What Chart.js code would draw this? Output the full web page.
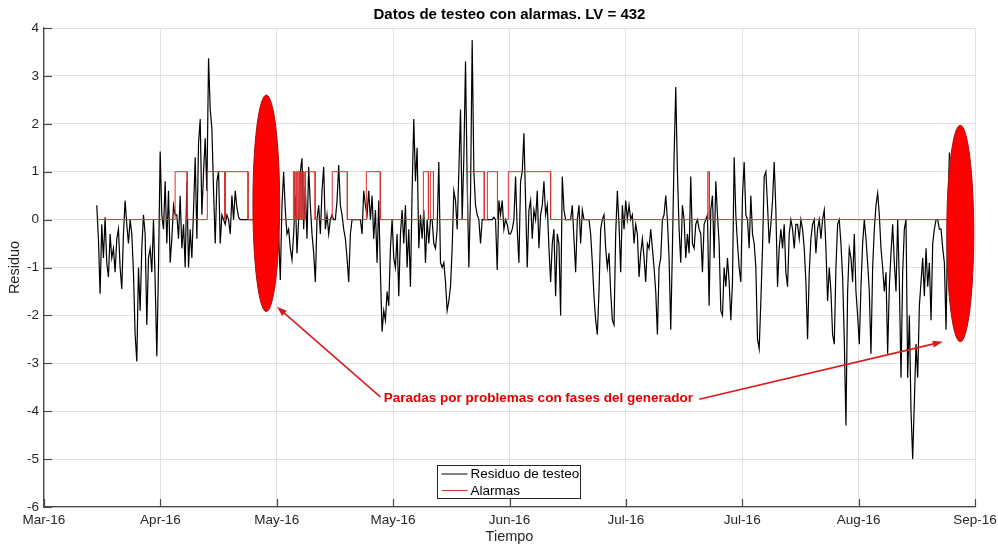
<!DOCTYPE html>
<html>
<head>
<meta charset="utf-8">
<script src="https://cdn.jsdelivr.net/npm/chart.js@4.4.1/dist/chart.umd.min.js"></script>
<style>
  html, body { margin: 0; padding: 0; background: #fff; }
</style>
</head>
<body>
<canvas id="residuoChart" width="998" height="544"></canvas>
<script>
// time axis, in days from the first tick
const tickLabels = ['Mar-16','Apr-16','May-16','May-16','Jun-16','Jul-16','Jul-16','Aug-16','Sep-16'];
const firstDay = 13.6;
const lastDay = 233.4;

// residuo de testeo, equally spaced samples between firstDay and lastDay
const residuo = [
  0.3, -0.4, -1.55, -0.1, -0.8, 0.05, -0.9, -1.2, -0.3, -0.8, -0.6, -1.1,
  -0.4, -0.2, -1.0, -1.45, -0.3, 0.4, -0.1, -0.5, 0.0, -0.3, -1.1, -2.4,
  -2.96, -1.0, -1.9, -0.6, 0.1, -0.3, -2.2, -0.8, -0.6, -1.1, 0.0, -1.3,
  -2.85, -1.0, 1.42, 0.1, -0.2, 0.8, -0.5, 0.6, -0.9, -0.4, 0.3, 0.1,
  0.1, -0.4, 0.5, -0.6, -0.1, -1.0, 0.8, -1.0, -0.2, -0.8, 0.2, 1.3,
  -0.4, 1.6, 2.1, 0.1, 1.0, 1.7, 0.6, 3.37, 2.3, 1.9, 0.6, -0.5,
  0.8, 1.0, -0.5, 0.1, 0.0, -0.1, 0.1, 0.0, -0.3, 0.5, 0.0, 0.6,
  0.25, 0.05, 0, 0, 0, 0, 0, 0, 0, 0, 0, 0,
  0, 0, 0, 0, 0, 0, 0, 0, 0, 0, 0, 0,
  0.0, -0.3, -1.26, 0.3, 1.0, 0.2, -0.3, -0.2, -0.6, -0.84, -0.3, 0.5,
  -0.7, 0.0, 1.0, 1.28, -0.2, 0.7, -0.4, 1.1, 0.3, -0.3, -0.7, -1.3,
  0.0, 0.3, -0.3, 0.6, 1.1, -0.2, 0.1, -0.3, 0.0, 0.1, 0.0, 0.0,
  0.4, 1.14, 0.3, 0.1, -0.2, -0.4, -0.8, -1.3, -0.3, 0.0, 0.0, 0.0,
  0.0, 0.0, 0.0, -0.3, 0.6, 0.3, 0.1, 0.6, 0.0, 0.5, -0.4, 0.2,
  -0.9, 0.4, -1.1, -2.34, -1.9, -2.1, -1.5, -1.8, -0.6, 0.0, -0.8, -1.0,
  -0.3, -1.6, -0.3, 0.2, -0.5, 0.3, -1.0, -0.2, -1.4, 0.6, 2.1, 0.8,
  1.5, -0.6, 0.1, -0.4, 0.2, -0.9, 0.0, -0.5, 0.0, 0.0, -0.5, -0.6,
  -0.2, 1.2, -0.9, -1.0, -0.9, -1.3, -1.9, -1.7, -1.4, -0.6, 0.6, 0.4,
  -0.2, 1.0, 2.3, 0.0, 1.3, 3.3, 0.8, -1.0, 0.5, 3.75, 1.0, 0.3,
  0.1, 0.0, -0.5, 0.0, 0.0, 0.0, 0.0, 0.0, 0.0, 0.0, 0.05, 0.0,
  -1.05, 0.4, 0.1, 0.4, -0.2, 0.0, -0.1, -0.3,
  -0.3, -0.2, 0.0, 0.9, -0.2, -0.9, 0.8, 1.0, 1.8, 0.4, -1.0, 0.2,
  0.4, -0.4, 0.2, 0.0, 0.6, -0.6, 0.1, 0.3, 0.8, 0.1, 0.3, -0.6,
  -1.3, -0.5, -0.2, -1.6, -0.3, -0.5, -2.0, 0.9, 0.2, 0.0, 0.0, 0.0,
  0.0, 0.3, -0.4, -1.1, 0.0, 0.3, -0.5, 0.2, 0.0, 0.0, 0.0, 0.0,
  -0.3, -0.9, -1.6, -2.1, -2.4, -1.5, -0.2, 0.0, 0.1, -0.6, -1.0, -0.7,
  -1.5, -2.1, -2.2, -0.3, 0.6, -0.1, -1.1, 0.3, -0.2, 0.4, 0.0, 0.3,
  0.0, 0.1, -0.5, -0.1, -0.3, -1.2, -0.7, -0.4, -0.8, -1.3, -0.5, -0.6,
  -0.2, -0.6, -1.0, -1.5, -2.4, -1.0, -0.8, 0.0, 0.1, 0.5, 0.0, -0.8,
  -2.3, -0.6, 1.3, 2.77, 1.0, -0.2, -0.9, 0.3, 0.0, -0.8, -0.3, -0.7,
  0.9, -0.5, -0.6, -0.1, 0.0, -0.2, -0.3, -1.1, -0.1, 0.0, 0.1, -1.8,
  0.2, 0.5, -0.8, 0.8, 0.1, -0.5, -1.9, -2.0, -1.0, -1.4, -0.8, -1.3,
  -2.1, -1.3, 1.3, 0.1, -0.5, -1.0, -1.3, 0.5, 1.2, 0.1, 0.0, -0.6,
  0.5, -0.3, -0.5, -1.0, -2.5, -2.7, -1.7, -0.6, 0.9, 1.0, 0.3, -0.5,
  -0.1, 0.4, 1.2, 0.2, -1.4, -0.6, -0.2, -0.6, -0.1, -1.1, -1.4, -0.3,
  0.0, -0.2, -0.6, -0.1, -0.1, -0.4, 0.0, -0.2, -0.6, -1.3, -2.5, -1.1,
  -0.4, -0.1, 0.0, -0.7, -0.2, 0.0, -0.4, 0.0, 0.2, -0.6, -1.7, -1.0,
  -1.5, -2.4, -2.6, -1.0, -0.1, 0.0, -0.5, -1.2, -2.5, -4.3, -1.5, -0.6,
  -0.8, -1.3, -0.3, -1.5, -2.0, -2.6, -1.4, -0.5, 0.0, -0.4, -0.9, -1.5,
  -2.8, -1.0, -0.2, 0.3, 0.55, 0.1, -0.6, -1.0, -1.5, -1.1, -2.8, -1.4,
  -0.7, -0.1, -0.9, -1.5, 0.0, -1.3, -3.3, -1.1, -0.2, 0.0, -3.3, -2.0,
  -4.0, -5.0, -3.8, -2.6, -3.3, -1.8, -1.3, -0.8, -1.6, -0.6, -1.4, -0.9,
  -2.1, -0.5, -0.2, 0.0, 0.0, -0.2, -0.2, -0.6, -0.9, -2.3, 0.0, 1.4
];

// alarmas: start and end day of each alarm period (value 1)
const alarmOn  = [33.8, 42.1, 46.8, 64.3, 64.9, 65.5, 66.1, 66.7, 67.4, 74.3, 83.1, 97.8, 99.6, 109.2, 114.3, 119.7, 171.1];
const alarmOff = [36.9, 46.6, 52.6, 64.6, 65.2, 65.8, 66.4, 67.0, 69.9, 78.2, 86.7, 99.1, 100.4, 113.5, 116.9, 130.6, 171.5];

// marked stops (ellipses) and the note pointing at them
const stopDay = [57.3, 236.2];
const stopMid = [0.34, -0.29];
const stopHalfDays = [3.45, 3.48];
const stopHalfRes = [2.26, 2.26];
const noteText = 'Paradas por problemas con fases del generador';
const notePos = [87.6, -3.72];
const arrowFrom = [[86.7, -3.70], [168.9, -3.75]];
const arrowTo = [[60.05, -1.82], [231.7, -2.55]];

const chartTitle = 'Datos de testeo con alarmas. LV = 432';
const legendNames = ['Residuo de testeo', 'Alarmas'];
const lineBlack = '#000000';
const lineRed = '#d83232';
const axisGrey = '#4a4a4a';
const fontFam = "'Liberation Sans', Arial, sans-serif";

Chart.defaults.font.family = fontFam;

let dayStep = (lastDay - firstDay) / (residuo.length - 1);
let residuoPts = residuo.map((v, i) => ({x: firstDay + i * dayStep, y: v}));

let alarmPts = [{x: firstDay, y: 0}];
alarmOn.forEach((on, i) => {
    alarmPts.push({x: on, y: 0}, {x: on, y: 1}, {x: alarmOff[i], y: 1}, {x: alarmOff[i], y: 0});
});
alarmPts.push({x: lastDay, y: 0});

function arrow(ctx, x0, y0, x1, y1){
    let ang = Math.atan2(y1 - y0, x1 - x0);
    ctx.beginPath();
    ctx.moveTo(x0, y0);
    ctx.lineTo(x1 - 6 * Math.cos(ang), y1 - 6 * Math.sin(ang));
    ctx.stroke();
    ctx.beginPath();
    ctx.moveTo(x1, y1);
    ctx.lineTo(x1 - 10 * Math.cos(ang) + 3.5 * Math.sin(ang), y1 - 10 * Math.sin(ang) - 3.5 * Math.cos(ang));
    ctx.lineTo(x1 - 10 * Math.cos(ang) - 3.5 * Math.sin(ang), y1 - 10 * Math.sin(ang) + 3.5 * Math.cos(ang));
    ctx.closePath();
    ctx.fill();
}

const overlay = {
    id: 'overlay',
    afterDatasetsDraw(chart) {
        const {ctx, chartArea, scales} = chart;
        const x = scales.x, y = scales.y;
        ctx.save();

        // title, centred over the axes
        ctx.font = 'bold 15px ' + fontFam;
        ctx.fillStyle = '#000';
        ctx.textAlign = 'center';
        ctx.textBaseline = 'middle';
        ctx.fillText(chartTitle, (chartArea.left + chartArea.right) / 2, 15);

        // inward tick marks, matlab style
        ctx.strokeStyle = axisGrey;
        ctx.lineWidth = 1.2;
        y.ticks.forEach(t => {
            let py = Math.round(y.getPixelForValue(t.value)) + 0.5;
            ctx.beginPath(); ctx.moveTo(chartArea.left, py); ctx.lineTo(chartArea.left + 8, py); ctx.stroke();
        });
        x.ticks.forEach(t => {
            let px = Math.round(x.getPixelForValue(t.value)) + 0.5;
            ctx.beginPath(); ctx.moveTo(px, chartArea.bottom); ctx.lineTo(px, chartArea.bottom - 8); ctx.stroke();
        });

        // ellipses over the stops
        stopDay.forEach((d, i) => {
            let cx = x.getPixelForValue(d);
            let cy = y.getPixelForValue(stopMid[i]);
            let rx = x.getPixelForValue(d + stopHalfDays[i]) - cx;
            let ry = cy - y.getPixelForValue(stopMid[i] + stopHalfRes[i]);
            ctx.beginPath();
            ctx.ellipse(cx, cy, rx, ry, 0, 0, Math.PI * 2);
            ctx.fillStyle = '#ff0000';
            ctx.fill();
            ctx.strokeStyle = '#a81010';
            ctx.lineWidth = 1;
            ctx.stroke();
        });

        // arrows and note
        ctx.strokeStyle = '#d81c1c';
        ctx.fillStyle = '#d81c1c';
        ctx.lineWidth = 1.6;
        arrowFrom.forEach((f, i) => {
            arrow(ctx, x.getPixelForValue(f[0]), y.getPixelForValue(f[1]),
                  x.getPixelForValue(arrowTo[i][0]), y.getPixelForValue(arrowTo[i][1]));
        });
        ctx.font = 'bold 13.5px ' + fontFam;
        ctx.fillStyle = '#e00000';
        ctx.textAlign = 'left';
        ctx.fillText(noteText, x.getPixelForValue(notePos[0]), y.getPixelForValue(notePos[1]));

        // legend box
        let bw = 143, bh = 33;
        let bx = Math.round((chartArea.left + chartArea.right) / 2 - bw / 2) - 0.5;
        let by = Math.round(chartArea.bottom - 9 - bh) + 0.5;
        ctx.fillStyle = '#ffffff';
        ctx.fillRect(bx, by, bw, bh);
        ctx.strokeStyle = '#262626';
        ctx.lineWidth = 1;
        ctx.strokeRect(bx, by, bw, bh);
        ctx.font = '13.5px ' + fontFam;
        [lineBlack, lineRed].forEach((c, i) => {
            let ly = by + 8.5 + i * 16.5;
            ctx.strokeStyle = c;
            ctx.beginPath(); ctx.moveTo(bx + 4, ly); ctx.lineTo(bx + 30, ly); ctx.stroke();
            ctx.fillStyle = '#000';
            ctx.fillText(legendNames[i], bx + 33, ly + 0.5);
        });
        ctx.restore();
    }
};

const chartCtx = document.getElementById('residuoChart').getContext('2d');
let residuoChart = new Chart(chartCtx, {
    type: 'line',
    data: {
        datasets: [{
            label: legendNames[0],
            data: residuoPts,
            borderColor: lineBlack,
            borderWidth: 1.2,
            pointRadius: 0,
            tension: 0,
            order: 1
        }, {
            label: legendNames[1],
            data: alarmPts,
            borderColor: lineRed,
            borderWidth: 1,
            pointRadius: 0,
            tension: 0,
            order: 0
        }]
    },
    options: {
        responsive: false,
        animation: false,
        layout: {padding: {left: 0, right: 0, top: 28, bottom: 0}},
        plugins: {
            legend: {display: false},
            tooltip: {enabled: false},
            title: {display: false}
        },
        scales: {
            x: {
                type: 'linear',
                min: 0,
                max: 240,
                ticks: {
                    stepSize: 30,
                    autoSkip: false,
                    maxRotation: 0,
                    padding: 5,
                    color: '#262626',
                    font: {size: 13.5},
                    callback: (v, i) => tickLabels[i]
                },
                grid: {color: '#e2e2e2', drawTicks: false},
                border: {color: axisGrey, width: 1.3},
                title: {display: true, text: 'Tiempo', color: '#262626', font: {size: 14.5}, padding: {top: 0, bottom: -2}},
                afterFit: (scale) => { scale.height = 37; scale.paddingRight = 23; scale.paddingLeft = 0; }
            },
            y: {
                min: -6,
                max: 4,
                ticks: {stepSize: 1, padding: 5, color: '#262626', font: {size: 13.5}},
                grid: {color: '#e2e2e2', drawTicks: false},
                border: {color: axisGrey, width: 1.3},
                title: {display: true, text: 'Residuo', color: '#262626', font: {size: 14.5}, padding: {top: 6, bottom: 0}},
                afterFit: (scale) => { scale.width = 44; scale.paddingTop = 0; scale.paddingBottom = 0; }
            }
        }
    },
    plugins: [overlay]
});
</script>
</body>
</html>
